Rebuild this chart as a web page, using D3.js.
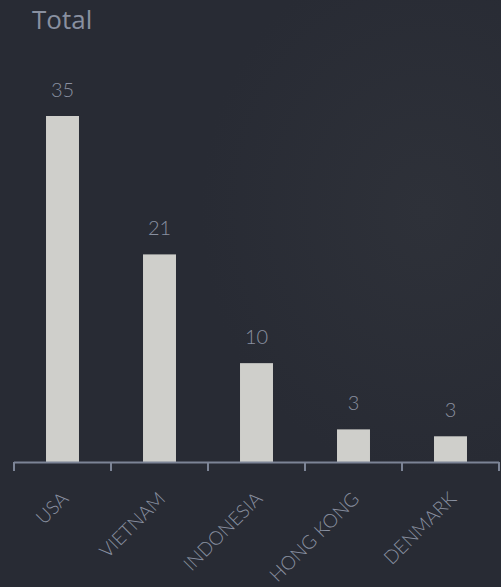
<!DOCTYPE html>
<html>
<head>
<meta charset="utf-8">
<script src="https://cdn.jsdelivr.net/npm/d3@7"></script>
<style>
  html, body { margin: 0; padding: 0; background: #282b34; }
  svg { display: block; }
</style>
</head>
<body>
<div id="chart"></div>
<script>
// data
var countries = ["USA", "VIETNAM", "INDONESIA", "HONG KONG", "DENMARK"];
var totals = [35, 21, 10, 3.3, 2.6];
var title = "Total";

var width = 501, height = 587;
var labelColor = "#8990a0";

var svg = d3.select("#chart").append("svg")
    .attr("width", width)
    .attr("height", height);

// soft background glow
var defs = svg.append("defs");
var glow = defs.append("radialGradient").attr("id", "glow")
    .attr("cx", "0.85").attr("cy", "0.36").attr("r", "0.45");
glow.append("stop").attr("offset", "0%").attr("stop-color", "#2e3139");
glow.append("stop").attr("offset", "100%").attr("stop-color", "#282b34");

svg.append("rect")
    .attr("width", width).attr("height", height)
    .attr("fill", "url(#glow)");

var x = d3.scaleBand()
    .domain(countries)
    .range([14, 499])
    .paddingInner(0.66)
    .paddingOuter(0.33);

var y = d3.scaleLinear()
    .domain([0, d3.max(totals)])
    .range([462, 116]);

var rows = countries.map(function (c, i) {
    return {name: c, value: totals[i]};
});

// title
svg.append("text")
    .attr("x", 32)
    .attr("y", 29)
    .attr("font-family", "Open Sans")
    .attr("font-size", 26)
    .attr("fill", labelColor)
    .text(title);

// bars
svg.append("g").selectAll("rect")
    .data(rows)
    .enter().append("rect")
    .attr("x", function (d) { return x(d.name); })
    .attr("y", function (d) { return y(d.value); })
    .attr("width", x.bandwidth())
    .attr("height", function (d) { return y(0) - y(d.value); })
    .attr("fill", "#cfcfcb");

// value labels
svg.append("g").selectAll("text")
    .data(rows)
    .enter().append("text")
    .attr("x", function (d) { return x(d.name) + x.bandwidth() / 2; })
    .attr("y", function (d) { return y(d.value) - 19; })
    .attr("text-anchor", "middle")
    .attr("font-family", "Lato")
    .attr("font-weight", 300)
    .attr("font-size", 20)
    .attr("fill", labelColor)
    .text(function (d) { return d3.format(".0f")(d.value); });

// x axis: ticks on band edges
var edges = countries.map(function (c) { return x(c) - x.step() * x.paddingOuter(); });
edges.push(x.range()[1]);

var axis = svg.append("g").attr("class", "axis");
axis.append("line")
    .attr("x1", x.range()[0]).attr("x2", x.range()[1])
    .attr("y1", y(0) + 0.5).attr("y2", y(0) + 0.5)
    .attr("stroke", "#7c8496").attr("stroke-width", 2);

axis.selectAll("line.tick")
    .data(edges)
    .enter().append("line")
    .attr("class", "tick")
    .attr("x1", function (d) { return d; }).attr("x2", function (d) { return d; })
    .attr("y1", y(0)).attr("y2", y(0) + 9)
    .attr("stroke", "#7c8496").attr("stroke-width", 2);

axis.selectAll("text")
    .data(countries)
    .enter().append("text")
    .attr("transform", function (d) {
        return "translate(" + (x(d) + x.bandwidth() / 2 + 7) + "," + 500 + ") rotate(-45)";
    })
    .attr("text-anchor", "end")
    .attr("font-family", "Lato")
    .attr("font-weight", 300)
    .attr("font-size", 19)
    .attr("fill", labelColor)
    .text(function (d) { return d; });
</script>
</body>
</html>
